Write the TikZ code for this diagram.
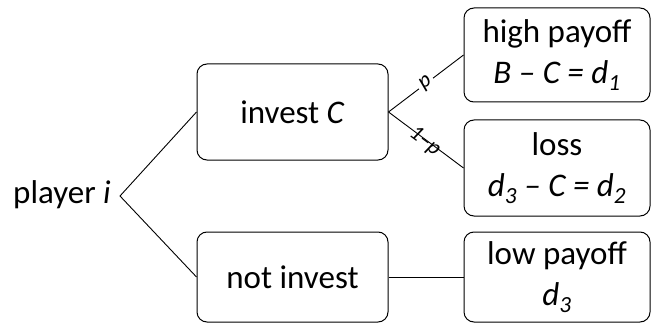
\documentclass[tikz,border=0pt]{standalone}
\usepackage{fontspec}
\setmainfont{Carlito}
\begin{document}
\begin{tikzpicture}[x=1pt,y=-1pt,
  txt/.style={font=\fontsize{33}{41}\selectfont, align=center, inner sep=0pt},
  boxa/.style={draw, line width=1pt, rounded corners=10pt, minimum width=191pt, txt},
  boxb/.style={draw, line width=1pt, rounded corners=10pt, minimum width=186pt, txt},
  edge/.style={line width=0.9pt},
  lbl/.style={font=\fontsize{22}{24}\selectfont, sloped, inner sep=1pt}]
\useasboundingbox (0,0) rectangle (652,323);
\node[txt] (pl) at (62,195) {player \textit{i}};
\coordinate (v) at (120,196);
\node[boxa, minimum height=96pt] (inv) at (292.5,112) {invest \textit{C}};
\node[boxa, minimum height=90pt] (not) at (292.5,277) {not invest};
\node[boxb, minimum height=94pt] (hi) at (557,55) {high payoff\\\textit{B – C = d}\textsubscript{\textit{1}}};
\node[boxb, minimum height=96pt] (lo) at (557,168) {loss\\\textit{d}\textsubscript{\textit{3}}\textit{ – C = d}\textsubscript{\textit{2}}};
\node[boxb, minimum height=90pt] (lp) at (557,277) {low payoff\\\textit{d}\textsubscript{\textit{3}}};
\draw[edge] (inv.west) -- (v) -- (not.west);
\draw[edge] (inv.east) -- node[lbl, fill=white, inner sep=3pt] {\textit{p}} (hi.west);
\draw[edge] (inv.east) -- node[lbl, yshift=-2pt] {\textit{1–p}} (lo.west);
\draw[edge] (not.east) -- (lp.west);
\end{tikzpicture}
\end{document}
